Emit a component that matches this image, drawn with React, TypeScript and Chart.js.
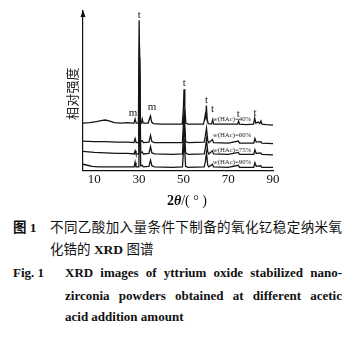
import React, { useEffect, useRef } from 'react';
import { Chart, registerables } from 'chart.js';

Chart.register(...registerables);

// ---- data ----
const xTicks = [10, 30, 50, 70, 90];

const s40: number[][] = [
  [5, 46], [8, 46.5], [11, 47.5], [13, 48.5], [15, 49], [17, 48], [19, 46.5], [22, 46], [25, 46.5], [27, 46],
  [27.8, 46], [28.3, 50], [28.8, 46], [29.8, 46], [30.1, 146], [30.35, 146], [30.7, 47], [31.1, 46], [31.5, 50], [31.9, 46],
  [34.2, 46], [34.7, 50], [35.2, 53], [35.7, 47], [36.5, 45.5], [40, 45], [45, 45], [49.4, 45], [49.9, 60],
  [50.2, 79], [50.55, 62], [51.0, 46], [52, 45], [55, 45], [58.9, 45], [59.4, 50], [59.7, 54], [59.9, 52],
  [60.2, 63], [60.55, 50], [61.0, 45.5], [62.5, 45], [63, 49], [63.5, 45], [68, 45], [72, 45], [74.2, 45],
  [74.6, 48], [75.0, 45], [78, 44.5], [81.3, 45], [81.8, 51], [82.3, 46], [83.5, 47], [84.1, 45.5], [84.6, 48],
  [85.1, 45], [87, 44.5], [90, 44],
];

const s60: number[][] = [
  [5, 28.5], [10, 28], [15, 28], [20, 27.5], [25, 27.5], [27.8, 27], [28.3, 31], [28.8, 27], [29.9, 27],
  [30.25, 120], [30.7, 28], [31.5, 29], [32, 27], [34.5, 27.5], [35.2, 34], [35.8, 28], [37, 27], [42, 27],
  [49.5, 27], [50.25, 60], [50.9, 28], [52, 27], [59.2, 27.5], [59.7, 33], [60.25, 41], [60.8, 29], [61.3, 27],
  [62.9, 30], [63.4, 27], [70, 26.5], [74.5, 28.5], [75, 26.5], [81.4, 26.5], [81.9, 31], [82.5, 27.5],
  [84.5, 28], [85, 26.5], [90, 26],
];

const s75: number[][] = [
  [5, 18.5], [10, 17.5], [15, 17], [20, 16.5], [25, 16.5], [27.9, 16], [28.3, 19], [28.7, 16], [30, 16],
  [30.35, 110], [30.8, 17], [31.5, 18], [32, 16], [34.5, 16.5], [35.2, 23], [35.8, 17], [37, 16], [45, 15.5],
  [49.5, 16], [50.25, 46], [50.9, 17], [52, 15.5], [59.2, 16], [59.7, 21], [60.25, 30], [60.8, 18], [61.3, 16],
  [62.9, 19], [63.4, 16], [70, 15.5], [74.5, 17.5], [75, 15.5], [81.4, 15.5], [81.9, 20], [82.5, 16.5],
  [84.5, 17], [85, 15.5], [90, 15],
];

const s90: number[][] = [
  [5, 6], [7, 5], [9, 4], [12, 3.5], [20, 3.5], [27.9, 3.5], [28.3, 8], [28.7, 3.5], [30, 3.5], [30.3, 100],
  [30.8, 4.5], [31.5, 5], [32, 3.5], [34.5, 4], [35.2, 10], [35.8, 4.5], [37, 3.5], [45, 3], [49.5, 3.5],
  [50.25, 30], [50.9, 4], [52, 3], [59.2, 3.5], [59.7, 8], [60.25, 17], [60.8, 5], [61.3, 3.5], [62.9, 6],
  [63.4, 3.5], [70, 3], [74.5, 5], [75, 3], [81.4, 3], [81.9, 7.5], [82.5, 4], [84.5, 4.5], [85, 3], [90, 3],
];

const seriesValues = [s40, s60, s75, s90];
const seriesPercent = ['40%', '60%', '75%', '90%'];
const seriesLabelX = 63.2;
const seriesLabelY = [50, 34, 20, 8];

const peakMarks = ['t', 'm', 'm', 't', 't', 't', 't', 't'];
const peakMarkX = [30.2, 27.4, 35.9, 50.3, 60.3, 63.0, 74.5, 82.0];
const peakMarkY = [151, 56, 62, 85, 68, 60, 55, 56];

const yTitle = '相对强度';

const SERIF = '"Liberation Serif", "Times New Roman", serif';
const CJK = '"Liberation Serif", "Noto Sans CJK SC", serif';

const decorPlugin = {
  id: 'decor',
  afterDatasetsDraw(chart: any) {
    const { ctx, chartArea, scales } = chart;
    const xs = scales.x;
    const ys = scales.y;
    ctx.save();
    // arrow on y axis
    const ax = chartArea.left;
    ctx.fillStyle = '#111';
    ctx.beginPath();
    ctx.moveTo(ax, chartArea.top - 1);
    ctx.lineTo(ax - 2.5, chartArea.top + 6);
    ctx.lineTo(ax + 2.5, chartArea.top + 6);
    ctx.closePath();
    ctx.fill();

    // y title (rotated, reads bottom to top)
    ctx.save();
    ctx.translate(chartArea.left - 11, (chartArea.top + chartArea.bottom) / 2 + 3);
    ctx.rotate(-Math.PI / 2);
    ctx.font = '13px "Noto Sans CJK SC"';
    ctx.fillStyle = '#222';
    ctx.textAlign = 'center';
    ctx.textBaseline = 'middle';
    const chars = Array.from(yTitle);
    const step = 13.2;
    chars.forEach((c, i) => {
      ctx.fillText(c, (i - (chars.length - 1) / 2) * step, 0);
    });
    ctx.restore();

    // peak marks
    ctx.fillStyle = '#222';
    ctx.textAlign = 'center';
    ctx.textBaseline = 'middle';
    ctx.font = `11px ${SERIF}`;
    peakMarks.forEach((m, i) => {
      ctx.fillText(m, xs.getPixelForValue(peakMarkX[i]), ys.getPixelForValue(peakMarkY[i]));
    });

    // series labels
    ctx.textAlign = 'left';
    seriesPercent.forEach((p, i) => {
      const x = xs.getPixelForValue(seriesLabelX);
      const y = ys.getPixelForValue(seriesLabelY[i]);
      ctx.font = `italic 6.8px ${SERIF}`;
      ctx.fillText('w', x, y);
      const w = ctx.measureText('w').width;
      ctx.font = `6.8px ${SERIF}`;
      ctx.fillText('(HAc)=' + p, x + w, y);
    });

    // x title
    const parts = [
      { t: '2', f: `bold 14px ${SERIF}` },
      { t: 'θ', f: `italic bold 14px ${SERIF}` },
      { t: '/( ° )', f: `14px ${SERIF}` },
    ];
    let total = 0;
    parts.forEach((p) => { ctx.font = p.f; total += ctx.measureText(p.t).width; });
    let cx = xs.getPixelForValue(51.5) - total / 2;
    const ty = chartArea.bottom + 31;
    ctx.fillStyle = '#111';
    parts.forEach((p) => {
      ctx.font = p.f;
      ctx.fillText(p.t, cx, ty);
      cx += ctx.measureText(p.t).width;
    });
    ctx.restore();
  },
};

function XrdChart() {
  const ref = useRef<HTMLCanvasElement>(null);
  useEffect(() => {
    if (!ref.current) return;
    const chart = new Chart(ref.current, {
      type: 'line',
      data: {
        datasets: seriesValues.map((s, i) => ({
          label: seriesPercent[i],
          data: s.map(([x, y]) => ({ x, y })),
          borderColor: '#151515',
          borderWidth: 1.3,
          pointRadius: 0,
          tension: 0,
          fill: false,
        })),
      },
      options: {
        animation: false,
        responsive: false,
        maintainAspectRatio: false,
        events: [],
        layout: { padding: { left: 83, right: 85, top: 11, bottom: 22 } },
        plugins: { legend: { display: false }, tooltip: { enabled: false } },
        scales: {
          x: {
            type: 'linear',
            min: 5,
            max: 90,
            afterBuildTicks: (axis: any) => {
              axis.ticks = xTicks.map((v) => ({ value: v }));
            },
            ticks: { font: { family: SERIF, size: 13 }, color: '#111', padding: 1, maxRotation: 0 },
            grid: { display: true, drawOnChartArea: false, drawTicks: false },
            border: { display: true, color: '#111', width: 1.2 },
          },
          y: {
            type: 'linear',
            min: 0,
            max: 155,
            ticks: { display: false },
            grid: { display: true, drawOnChartArea: false, drawTicks: false },
            border: { display: true, color: '#111', width: 1.2 },
            title: { display: false, text: yTitle },
          },
        },
      },
      plugins: [decorPlugin],
    });
    return () => chart.destroy();
  }, []);
  return <canvas ref={ref} width={358} height={210} style={{ position: 'absolute', left: 0, top: 0, width: 358, height: 210 }} />;
}

const base: React.CSSProperties = { position: 'absolute', lineHeight: '16px', whiteSpace: 'nowrap', color: '#111' };
const just: React.CSSProperties = { textAlign: 'justify', textAlignLast: 'justify' as any, whiteSpace: 'normal' };

export default function App() {
  return (
    <div style={{ position: 'fixed', left: 0, top: 0, width: 358, height: 341, background: '#fff', overflow: 'hidden' }}>
      <XrdChart />
      <div style={{ ...base, left: 13, top: 220, fontFamily: CJK, fontSize: 13.5, fontWeight: 'bold' }}>图 1</div>
      <div style={{ ...base, ...just, left: 50, top: 220, width: 292, fontFamily: CJK, fontSize: 13.5 }}>
        不同乙酸加入量条件下制备的氧化钇稳定纳米氧
      </div>
      <div style={{ ...base, left: 50, top: 242, fontFamily: CJK, fontSize: 13.5 }}>
        化锆的 <b>XRD</b> 图谱
      </div>
      <div style={{ ...base, left: 13, top: 265, fontFamily: SERIF, fontSize: 13, fontWeight: 'bold' }}>Fig. 1</div>
      <div style={{ ...base, ...just, left: 65, top: 265, width: 277, fontFamily: SERIF, fontSize: 13, fontWeight: 'bold' }}>
        XRD images of yttrium oxide stabilized nano-
      </div>
      <div style={{ ...base, ...just, left: 65, top: 288, width: 277, fontFamily: SERIF, fontSize: 13, fontWeight: 'bold' }}>
        zirconia powders obtained at different acetic
      </div>
      <div style={{ ...base, left: 65, top: 309, fontFamily: SERIF, fontSize: 13, fontWeight: 'bold' }}>
        acid addition amount
      </div>
    </div>
  );
}
